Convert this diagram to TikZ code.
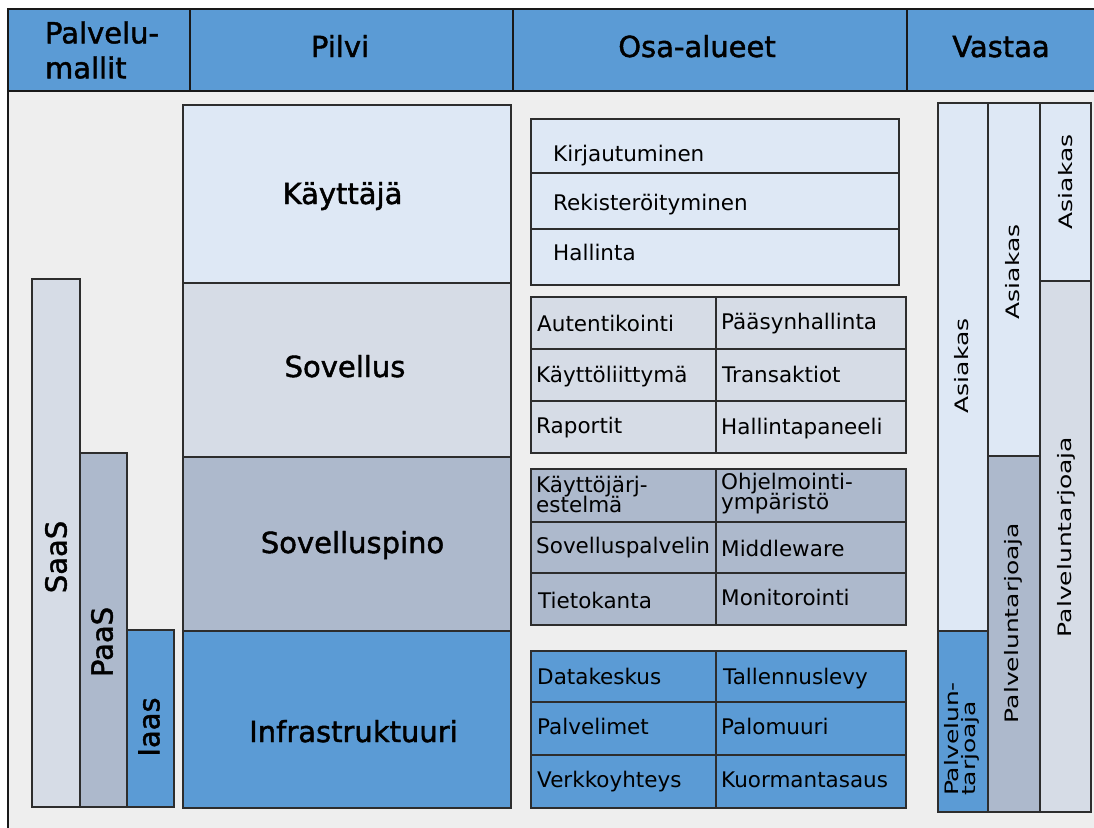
\documentclass[tikz,border=0pt]{standalone}
\usepackage{fontspec}
\setmainfont{DejaVu Sans}
\newfontfamily\heavyfont[FakeBold=1.5]{DejaVu Sans}
\definecolor{hdr}{RGB}{91,155,213}
\definecolor{c1}{RGB}{222,232,245}
\definecolor{c2}{RGB}{214,220,230}
\definecolor{c3}{RGB}{173,185,204}
\definecolor{bg}{RGB}{238,238,238}
\definecolor{edge}{RGB}{45,45,45}
\tikzset{
  frame/.style={draw=black!90, line width=2pt},
  cell/.style={draw=edge, line width=1.4pt},
  head/.style={font=\heavyfont\fontsize{29}{35}\selectfont, inner sep=0pt},
  layer/.style={font=\heavyfont\fontsize{29}{34}\selectfont, inner sep=0pt, anchor=base},
  model/.style={font=\heavyfont\fontsize{29}{34}\selectfont, inner sep=0pt, rotate=90},
  item/.style={font=\fontsize{21.5}{16}\selectfont, inner sep=0pt, anchor=base west, align=left},
  role/.style={font=\fontsize{18.5}{20}\selectfont, inner sep=0pt, rotate=90, align=left},
}
\newcommand\wide[1]{\scalebox{1.35}[1]{#1}}
\begin{document}
\begin{tikzpicture}[x=1pt,y=-1pt]
\useasboundingbox (0,0) rectangle (1094,827);
\fill[white] (0,0) rectangle (1094,827);
\fill[bg] (8,9) rectangle (1100,835);

% header bar
\fill[hdr] (8,9) rectangle (1100,91);
\draw[frame] (8,835) -- (8,9) -- (1100,9);
\draw[frame] (8,91) -- (1100,91);
\foreach \x in {190,513,907} \draw[frame] (\x,9) -- (\x,91);
\node[head, align=left] (h-models) at (102,50) {Palvelu-\\mallit};
\node[head, anchor=base] (h-cloud) at (340,57) {Pilvi};
\node[head, anchor=base] (h-areas) at (697,57) {Osa-alueet};
\node[head, anchor=base] (h-resp) at (1001,57) {Vastaa};

% service models
\draw[cell, fill=c2] (32,279) rectangle (80,807);
\draw[cell, fill=c3] (80,453) rectangle (127,807);
\draw[cell, fill=hdr] (127,630) rectangle (174,807);
\node[model] (saas) at (56,557) {SaaS};
\node[model] (paas) at (102,642) {PaaS};
\node[model] (iaas) at (149,727) {Iaas};

% cloud layers
\draw[cell, fill=c1] (183,105) rectangle (511,283);
\draw[cell, fill=c2] (183,283) rectangle (511,457);
\draw[cell, fill=c3] (183,457) rectangle (511,631);
\draw[cell, fill=hdr] (183,631) rectangle (511,808);
\node[layer] (l-user) at (342.5,204) {Käyttäjä};
\node[layer] (l-app) at (345,377) {Sovellus};
\node[layer] (l-stack) at (352.5,553) {Sovelluspino};
\node[layer] (l-infra) at (353.5,742) {Infrastruktuuri};

% sub-areas: user
\draw[cell, fill=c1] (531,119) rectangle (899,173);
\draw[cell, fill=c1] (531,173) rectangle (899,229);
\draw[cell, fill=c1] (531,229) rectangle (899,285);
\node[item] (a-login) at (553,161) {Kirjautuminen};
\node[item] (a-reg) at (553,210) {Rekisteröityminen};
\node[item] (a-admin) at (553,260) {Hallinta};

% sub-areas: application
\foreach \ya/\yb in {297/349, 349/401, 401/453}{
  \draw[cell, fill=c2] (531,\ya) rectangle (716,\yb);
  \draw[cell, fill=c2] (716,\ya) rectangle (906,\yb);
}
\node[item] (a-auth) at (537,331) {Autentikointi};
\node[item] (a-access) at (721,329) {Pääsynhallinta};
\node[item] (a-ui) at (536,382) {Käyttöliittymä};
\node[item] (a-trans) at (722,382) {Transaktiot};
\node[item] (a-rep) at (536,433) {Raportit};
\node[item] (a-dash) at (721,434) {Hallintapaneeli};

% sub-areas: application stack
\foreach \ya/\yb in {469/522, 522/573, 573/625}{
  \draw[cell, fill=c3] (531,\ya) rectangle (716,\yb);
  \draw[cell, fill=c3] (716,\ya) rectangle (906,\yb);
}
\node[item] (a-os) at (536,512) {Käyttöjärj-\\[-2pt]estelmä};
\node[item] (a-env) at (721,509) {Ohjelmointi-\\[-2pt]ympäristö};
\node[item] (a-appsrv) at (536,553) {Sovelluspalvelin};
\node[item] (a-mw) at (721,556) {Middleware};
\node[item] (a-db) at (538,608) {Tietokanta};
\node[item] (a-mon) at (721,605) {Monitorointi};

% sub-areas: infrastructure
\foreach \ya/\yb in {651/702, 702/755, 755/808}{
  \draw[cell, fill=hdr] (531,\ya) rectangle (716,\yb);
  \draw[cell, fill=hdr] (716,\ya) rectangle (906,\yb);
}
\node[item] (a-dc) at (537,684) {Datakeskus};
\node[item] (a-disk) at (723,684) {Tallennuslevy};
\node[item] (a-srv) at (537,734) {Palvelimet};
\node[item] (a-fw) at (721,734) {Palomuuri};
\node[item] (a-net) at (537,787) {Verkkoyhteys};
\node[item] (a-lb) at (721,787) {Kuormantasaus};

% responsibilities
\draw[cell, fill=c1] (938,103) rectangle (988,631);
\draw[cell, fill=hdr] (938,631) rectangle (988,812);
\draw[cell, fill=c1] (988,103) rectangle (1040,456);
\draw[cell, fill=c3] (988,456) rectangle (1040,812);
\draw[cell, fill=c1] (1040,103) rectangle (1091,281);
\draw[cell, fill=c2] (1040,281) rectangle (1091,812);
\node[role] (r-iaas-c) at (962,366) {\wide{Asiakas}};
\node[role] (r-iaas-p) at (962,739) {\wide{Palvelun-}\\[-3pt]\wide{tarjoaja}};
\node[role] (r-paas-c) at (1013,272) {\wide{Asiakas}};
\node[role] (r-paas-p) at (1013,623) {\wide{Palveluntarjoaja}};
\node[role] (r-saas-c) at (1066,182) {\wide{Asiakas}};
\node[role] (r-saas-p) at (1066,537) {\wide{Palveluntarjoaja}};
\end{tikzpicture}
\end{document}
